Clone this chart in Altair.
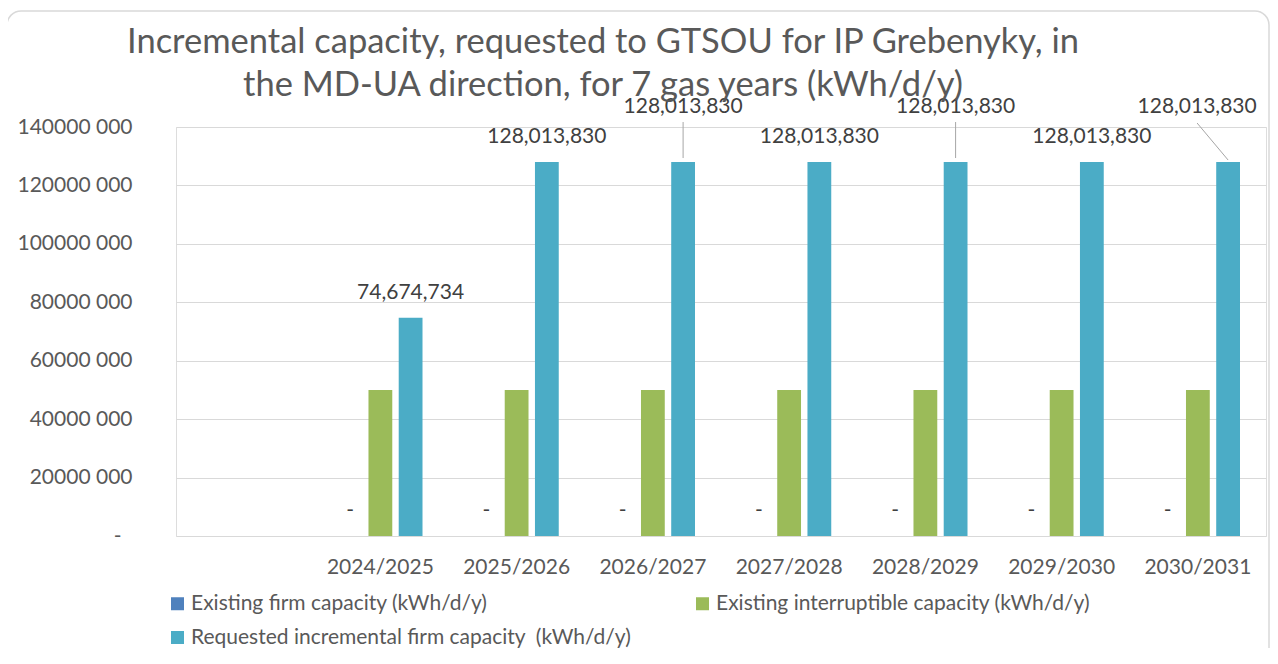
import altair as alt
import pandas as pd

# ---------------- data ----------------
years = ["2024/2025", "2025/2026", "2026/2027", "2027/2028",
         "2028/2029", "2029/2030", "2030/2031"]
series_names = [
    "Existing firm capacity (kWh/d/y)",
    "Existing interruptible capacity (kWh/d/y)",
    "Requested incremental firm capacity  (kWh/d/y)",
]
firm = [0, 0, 0, 0, 0, 0, 0]
interruptible = [50000000, 50000000, 50000000, 50000000, 50000000, 50000000, 50000000]
requested = [74674734, 128013830, 128013830, 128013830, 128013830, 128013830, 128013830]
y_ticks = [0, 20000000, 40000000, 60000000, 80000000, 100000000, 120000000, 140000000]

# label placement of the requested-capacity data labels (Excel-style moved labels)
requested_label_place = ["above", "above", "lifted", "above", "lifted", "above", "lifted_left"]

# ---------------- styling ----------------
colors = ["#4F81BD", "#9BBB59", "#4BACC6"]
FONT = "Lato"
GREY = "#595959"
x_domain = [" "] + years          # Excel leaves one empty category slot at the left
pad_in, pad_out = 0.213, 0.86     # spacing of the three bars inside a category

rows = []
for i, yr in enumerate(years):
    rows.append(dict(year=yr, series=series_names[0], value=firm[i], place="above"))
    rows.append(dict(year=yr, series=series_names[1], value=interruptible[i], place="none"))
    rows.append(dict(year=yr, series=series_names[2], value=requested[i],
                     place=requested_label_place[i]))
df = pd.DataFrame(rows)

base = alt.Chart(df)

x_scale = alt.Scale(domain=x_domain, paddingInner=0, paddingOuter=0)
x_enc = alt.X("year:N", sort=x_domain, scale=x_scale,
              axis=alt.Axis(title=None, orient="bottom", labelAngle=0, ticks=False, domain=False,
                            grid=False, labelFont=FONT, labelFontSize=21, labelColor=GREY,
                            labelPadding=20))
x_enc_noaxis = alt.X("year:N", sort=x_domain, scale=x_scale)
xoff_enc = alt.XOffset("series:N",
                       scale=alt.Scale(domain=series_names, paddingInner=pad_in,
                                       paddingOuter=pad_out))
y_enc = alt.Y("value:Q", scale=alt.Scale(domain=[0, 140000000], nice=False),
              axis=alt.Axis(title=None, values=y_ticks, domain=False, ticks=False,
                            gridColor="#D9D9D9", gridWidth=1.2,
                            labelExpr="datum.value == 0 ? '-' : floor(datum.value / 1000) + ' 000'",
                            labelFont=FONT, labelFontSize=21, labelColor=GREY,
                            labelPadding={"condition": {"test": "datum.value == 0", "value": 55},
                                          "value": 44}))

bars = base.mark_bar().encode(
    x=x_enc,
    xOffset=xoff_enc,
    y=y_enc,
    color=alt.Color("series:N", scale=alt.Scale(domain=series_names, range=colors),
                    legend=alt.Legend(title=None, orient="none", legendX=-9, legendY=466,
                                      direction="horizontal",
                                      columns=2, columnPadding=60, rowPadding=12,
                                      symbolType="square", symbolSize=169,
                                      symbolStrokeWidth=0, labelFont=FONT,
                                      labelFontSize=21, labelColor=GREY, labelLimit=1000,
                                      labelOffset=3, padding=0,
                                      labelExpr="replace(datum.label, '  ', ' \u00a0')")),
)

label_expr = "datum.value == 0 ? '-' : format(datum.value, ',')"

def labels(places, dx=0, dy=-25):
    return base.transform_filter(
        alt.FieldOneOfPredicate(field="place", oneOf=places)
    ).transform_calculate(label=label_expr).mark_text(
        font=FONT, fontSize=21, color="#404040", baseline="middle", dx=dx, dy=dy
    ).encode(x=x_enc_noaxis, xOffset=xoff_enc, y=alt.Y("value:Q"), text="label:N")

t_above = labels(["above"])
t_lifted = labels(["lifted"], dy=-55)
t_left = labels(["lifted_left"], dx=-31, dy=-55)

# leader lines from the moved labels down to the bar tops
def leader(place, path):
    return base.transform_filter(alt.datum.place == place).mark_point(
        shape=path, size=6400, filled=False, stroke="#A6A6A6", strokeWidth=1, opacity=1
    ).encode(x=x_enc_noaxis, xOffset=xoff_enc, y=alt.Y("value:Q"))

lead_v = leader("lifted", "M0,-0.1L0,-1")
lead_s = leader("lifted_left", "M0,-0.05L-0.775,-0.975")

frame = alt.Chart(pd.DataFrame({"k": [0]})).mark_rect(
    fill=None, stroke="#D9D9D9", strokeWidth=1.5, cornerRadius=14
).encode(x=alt.value(-169), x2=alt.value(1093), y=alt.value(-116), y2=alt.value(560))

chart = alt.layer(bars, t_above, t_lifted, t_left, lead_v, lead_s, frame).properties(
    width=1090, height=409,
    title=alt.Title(
        ["Incremental capacity, requested to GTSOU for IP Grebenyky, in",
         "the MD-UA direction, for 7 gas years (kWh/d/y)"],
        font=FONT, fontSize=34.5, fontWeight="normal", color=GREY, lineHeight=43,
        anchor="middle", dx=-118, offset=-93),
    autosize=alt.AutoSizeParams(type="none"),
    padding={"left": 168, "top": 119, "right": 4, "bottom": 112},
).configure_view(strokeWidth=0, stroke="transparent").configure_axis(
    domain=False
).configure(background="white")

chart.save("out.html", embed_options={"renderer": "svg", "actions": False})
